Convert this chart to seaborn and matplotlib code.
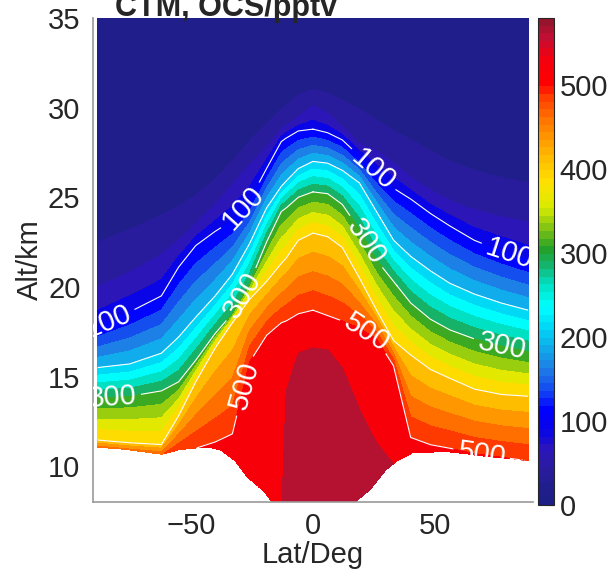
import numpy as np
import matplotlib
matplotlib.use("Agg")
import matplotlib.pyplot as plt
import seaborn as sns
from matplotlib.colors import LinearSegmentedColormap, Normalize
from matplotlib.cm import ScalarMappable

sns.set_style("white")
plt.rcParams['font.family'] = ['Liberation Sans', 'DejaVu Sans']

# ---------------- data ----------------
# latitude nodes (deg)
LAT = [-88, -75, -62, -55, -48, -40, -33, -26, -19, -13, -11, -6, 0,
       6, 12, 19, 26, 33, 40, 48, 56, 66, 77, 88]
# altitude (km) of the OCS isolines (pptv) at each latitude node
H25 = [22.5, 23.2, 24.0, 24.5, 25.1, 26.0, 27.0, 28.1, 29.1, 29.9, 30.1, 30.7, 31.0,
       30.8, 30.4, 29.9, 29.3, 28.7, 28.2, 27.6, 27.0, 26.5, 26.1, 25.8]
H50 = [20.0, 20.8, 21.8, 22.6, 23.5, 24.6, 25.7, 26.8, 27.8, 28.8, 29.0, 29.5, 30.1,
       29.7, 28.9, 28.0, 27.6, 26.9, 26.1, 25.4, 24.8, 24.3, 23.9, 23.6]
H75 = [18.7, 19.5, 20.4, 21.7, 22.8, 23.7, 24.5, 25.6, 27.1, 28.4, 28.6, 29.0, 29.3,
       29.0, 28.5, 27.6, 26.8, 26.1, 25.4, 24.6, 24.0, 23.3, 22.8, 22.3]
H100 = [17.8, 18.6, 19.5, 21.1, 22.3, 23.1, 23.7, 24.8, 26.6, 28.1, 28.3, 28.7, 28.8,
        28.6, 28.2, 27.3, 26.3, 25.5, 24.9, 24.1, 23.4, 22.6, 22.0, 21.5]
H200 = [15.5, 15.7, 16.3, 17.2, 18.3, 19.5, 20.7, 22.4, 24.4, 25.6, 25.9, 26.6, 27.0,
        26.9, 26.5, 25.8, 24.2, 22.6, 21.7, 20.9, 20.2, 19.6, 19.1, 18.7]
H300 = [13.8, 13.9, 14.2, 14.7, 15.9, 17.4, 18.5, 20.2, 22.5, 24.2, 24.4, 25.0, 25.3,
        25.2, 24.6, 23.2, 21.5, 20.3, 19.1, 18.2, 17.6, 17.1, 16.7, 16.4]
H400 = [11.45, 11.3, 11.2, 12.8, 14.7, 16.6, 18.0, 19.3, 20.3, 21.3, 21.6, 22.6, 23.0,
        22.8, 22.2, 20.5, 18.7, 17.0, 16.2, 15.4, 14.9, 14.3, 14.0, 13.9]
H500 = [10.8, 10.6, 10.4, 10.75, 11.0, 11.35, 11.8, 15.8, 17.3, 18.0, 18.1, 18.5, 18.7,
        18.4, 18.1, 17.7, 17.1, 15.6, 11.6, 11.2, 11.0, 10.7, 10.5, 10.3]
H550 = [6.5, 6.5, 6.5, 6.5, 6.5, 6.5, 6.5, 6.5, 6.5, 6.5, 14.2, 16.3, 16.6,
        16.5, 15.5, 13.2, 11.3, 10.1, 6.5, 6.5, 6.5, 6.5, 6.5, 6.5]
ISO_VALUES = [25, 50, 75, 100, 200, 300, 400, 500, 550]
TOP_VALUE, TOP_ALT = 0, 36.0
BOTTOM_VALUE, BOTTOM_ALT = 580, 6.0

# lower edge of the model field (white below)
BND_LAT = [-88, -75, -62, -55, -48, -43, -38, -32, -27, -21, -16, -12, 0,
           12, 16.5, 23.5, 30, 34.5, 41, 55, 70, 88]
BND_ALT = [11.05, 10.9, 10.65, 10.9, 11.0, 11.05, 10.9, 10.3, 9.4, 8.7, 7.9, 7.0, 6.0,
           7.0, 7.9, 8.7, 9.8, 10.3, 10.75, 10.8, 10.55, 10.3]

FILL_LEVELS = list(range(0, 501, 25)) + [550, 580]
PLAIN_LINE_LEVELS = [200, 400]
LABEL_LEVELS = [100, 300, 500]
LABEL_POS = [(-28, 24.3), (24.5, 26.5), (79, 21.3), (-83, 17.8),
             (-27.5, 19.4), (21.5, 22.5), (77, 16.5), (-82, 13.8),
             (-28, 14.5), (22, 17.5), (69, 10.7)]

CBAR_TICKS = [0, 100, 200, 300, 400, 500]
X_TICKS = [-50, 0, 50]
Y_TICKS = [10, 15, 20, 25, 30, 35]

# colour map anchors (value, rgb)
CMAP_VALUES = [0, 20, 40, 62, 85, 110, 135, 160, 188, 210, 235, 262, 285, 305,
               330, 355, 385, 410, 437, 462, 487, 505, 535, 560, 580]
CMAP_RGB = [(30, 30, 135), (32, 30, 142), (42, 28, 160), (45, 22, 185), (10, 5, 230),
            (0, 0, 255), (20, 75, 240), (30, 125, 230), (15, 175, 235), (0, 215, 245),
            (0, 255, 255), (0, 225, 195), (20, 180, 110), (35, 160, 40), (130, 195, 20),
            (215, 235, 0), (255, 225, 0), (255, 195, 0), (255, 155, 0), (255, 115, 0),
            (255, 65, 0), (255, 0, 0), (245, 0, 15), (195, 15, 50), (150, 20, 45)]

# ---------------- build field ----------------
vmax = BOTTOM_VALUE
cmap = LinearSegmentedColormap.from_list(
    "ocs", [(v / vmax, tuple(c / 255 for c in rgb)) for v, rgb in zip(CMAP_VALUES, CMAP_RGB)])
norm = Normalize(vmin=0, vmax=vmax)

lat_f = np.arange(-88, 88.001, 0.2)
alt_f = np.arange(6.0, 35.001, 0.02)
rows = [H25, H50, H75, H100, H200, H300, H400, H500, H550]
heights = np.array([np.interp(lat_f, LAT, r) for r in rows])
vals = np.array([TOP_VALUE] + ISO_VALUES + [BOTTOM_VALUE], dtype=float)
Z = np.empty((alt_f.size, lat_f.size))
for j in range(lat_f.size):
    h = np.concatenate([[TOP_ALT], heights[:, j], [BOTTOM_ALT]])
    Z[:, j] = np.interp(alt_f, h[::-1], vals[::-1])
bnd = np.interp(lat_f, BND_LAT, BND_ALT)
Z[alt_f[:, None] < bnd[None, :]] = np.nan
Z = np.ma.masked_invalid(Z)

# ---------------- figure ----------------
FS = 21
fig = plt.figure(figsize=(6.15, 5.77), dpi=100)
ax = fig.add_axes([0.1512, 0.130, 0.7154, 0.8388])
ax.contourf(lat_f, alt_f, Z, levels=FILL_LEVELS, cmap=cmap, norm=norm)
ax.contour(lat_f, alt_f, Z, levels=PLAIN_LINE_LEVELS, colors='white', linewidths=0.8)
cs = ax.contour(lat_f, alt_f, Z, levels=LABEL_LEVELS, colors='white', linewidths=0.8)
labels = ax.clabel(cs, manual=LABEL_POS, inline=True,
                   fontsize=FS, colors='white', fmt='%d')
for t in labels:
    t.set_clip_on(True)
    t.set_clip_box(ax.bbox)

ax.set_xlim(-90, 90)
ax.set_ylim(8, 35)
ax.set_xticks(X_TICKS)
ax.set_yticks(Y_TICKS)
ax.tick_params(axis='both', labelsize=FS, direction='in', length=5, width=0.8,
               color='#333333')
ax.tick_params(axis='y', pad=9)
ax.tick_params(axis='x', pad=7)
for s in ['top', 'right']:
    ax.spines[s].set_visible(False)
for s in ['left', 'bottom']:
    ax.spines[s].set_color('#999999')
    ax.spines[s].set_linewidth(1.2)
ax.set_xlabel('Lat/Deg', fontsize=FS, labelpad=1)
ax.set_ylabel('Alt/km', fontsize=FS, labelpad=3)

fig.text(115 / 615, 1 - 16 / 577, 'CTM, OCS/pptv', fontsize=22, fontweight='bold',
         ha='left', va='baseline')

cax = fig.add_axes([0.8748, 0.1248, 0.026, 0.844])
sm = ScalarMappable(norm=norm, cmap=cmap.resampled(64))
cb = fig.colorbar(sm, cax=cax, ticks=CBAR_TICKS)
cb.ax.tick_params(labelsize=FS, direction='in', length=4, width=0.8, pad=4)
cb.outline.set_linewidth(0.8)

fig.savefig('out.png', dpi=100)
